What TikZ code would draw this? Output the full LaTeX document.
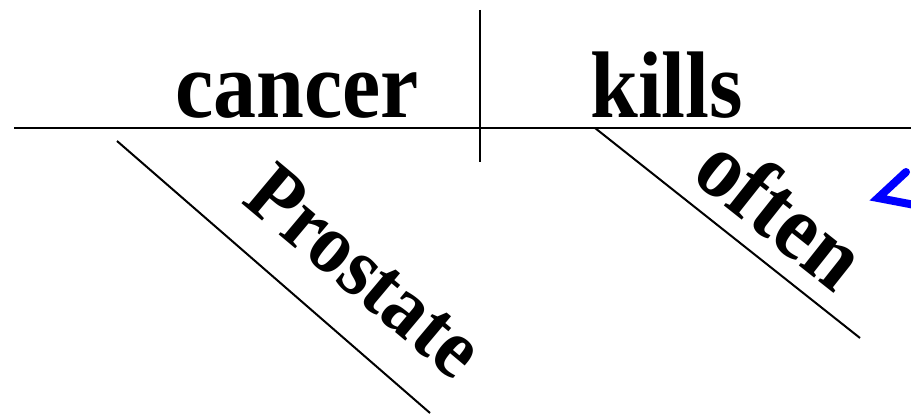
\documentclass[tikz,border=0pt]{standalone}
\usepackage{fontspec}
\setmainfont{Liberation Serif}
\begin{document}
\begin{tikzpicture}[x=1pt,y=-1pt,
  word/.style={inner sep=0pt,font=\fontsize{86}{86}\selectfont\bfseries},
  rule/.style={black,line width=2.2pt}]
\useasboundingbox (0,0) rectangle (911,417);
\begin{scope}
\clip (0,0) rectangle (911,417);
% base line
\coordinate (bl) at (14,128);
\coordinate (br) at (915,128);
\draw[rule,line width=2.8pt] (bl) -- (br);
\coordinate (vt) at (480,10);
\coordinate (vb) at (480,162);
\draw[rule] (vt) -- (vb);
% modifiers
\coordinate (p1) at (117,141);
\coordinate (p2) at (430,413);
\draw[rule,line width=2pt] (p1) -- (p2);
\coordinate (o1) at (595,128);
\coordinate (o2) at (860,338);
\draw[rule,line width=2pt] (o1) -- (o2);
% words
\node[word,anchor=base west,yscale=1.1] (cancer) at (175,118) {cancer};
\node[word,anchor=base west,yscale=1.1] (kills) at (590,118) {kills};
\node[word,font=\fontsize{79}{79}\selectfont\bfseries,anchor=base west,rotate=-40,yscale=1.08] (prostate) at (240,202) {Prostate};
\node[word,anchor=base west,rotate=-38.4,yscale=1.08] (often) at (689,178) {often};
% blue arrow (cropped)
\coordinate (at) at (878,198);
\coordinate (ab) at (906,172);
\coordinate (ae) at (920,206);
\draw[blue,line width=8pt,line cap=round,line join=miter] (ab) -- (at) -- (ae);
\end{scope}
\end{tikzpicture}
\end{document}
